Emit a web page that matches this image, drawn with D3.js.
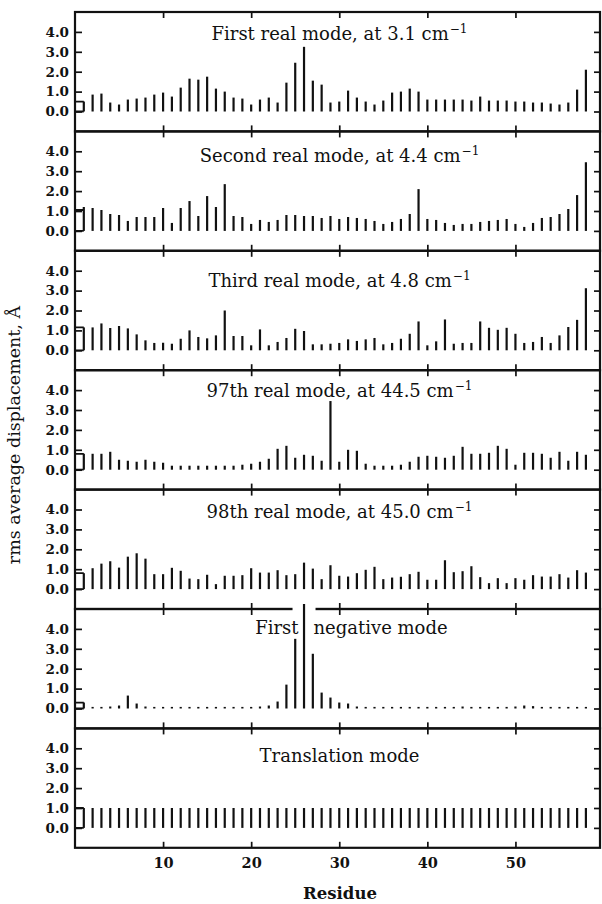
<!DOCTYPE html>
<html><head><meta charset="utf-8">
<script src="https://cdn.jsdelivr.net/npm/d3@7/dist/d3.min.js"></script>
<style>body{margin:0;background:#fff}</style>
</head><body>
<svg id="chart" width="602" height="904"></svg>
<script>
// ---------- data ----------
const residues = d3.range(1, 59);
const xTicks = [10, 20, 30, 40, 50];
const yTicks = [0, 1, 2, 3, 4];
const titles = [
  ["First real mode, at 3.1 cm", "\u22121"],
  ["Second real mode, at 4.4 cm", "\u22121"],
  ["Third real mode, at 4.8 cm", "\u22121"],
  ["97th real mode, at 44.5 cm", "\u22121"],
  ["98th real mode, at 45.0 cm", "\u22121"],
  ["First negative mode", ""],
  ["Translation mode", ""]
];
const mode1 = [0.5,0.85,0.9,0.45,0.35,0.6,0.65,0.7,0.85,0.95,0.75,1.2,1.65,1.6,1.75,1.15,1.0,0.7,0.65,0.35,0.6,0.7,0.45,1.45,2.45,3.25,1.55,1.35,0.45,0.5,1.05,0.7,0.5,0.35,0.55,0.95,1.0,1.15,1.0,0.6,0.6,0.6,0.6,0.6,0.55,0.75,0.55,0.55,0.55,0.5,0.5,0.45,0.45,0.4,0.35,0.45,1.1,2.1];
const mode2 = [1.2,1.15,1.05,0.85,0.8,0.5,0.7,0.7,0.7,1.15,0.4,1.15,1.5,0.75,1.75,1.2,2.35,0.75,0.7,0.35,0.55,0.45,0.55,0.8,0.8,0.75,0.75,0.65,0.75,0.6,0.7,0.65,0.6,0.5,0.35,0.45,0.6,0.85,2.1,0.6,0.55,0.4,0.3,0.35,0.35,0.45,0.5,0.55,0.6,0.35,0.2,0.4,0.65,0.7,0.85,1.1,1.8,3.45];
const mode3 = [1.15,1.15,1.35,1.12,1.22,1.1,0.8,0.5,0.37,0.38,0.33,0.58,1.0,0.67,0.6,0.75,2.0,0.72,0.72,0.25,1.05,0.25,0.42,0.62,1.08,0.97,0.3,0.3,0.33,0.37,0.55,0.47,0.55,0.62,0.3,0.37,0.58,0.83,1.45,0.25,0.45,1.55,0.33,0.37,0.37,1.45,1.13,1.03,1.13,0.83,0.37,0.42,0.67,0.37,0.75,1.17,1.53,3.12];
const mode97 = [0.8,0.8,0.8,0.9,0.5,0.45,0.4,0.5,0.4,0.35,0.2,0.2,0.2,0.2,0.2,0.2,0.2,0.2,0.25,0.3,0.4,0.55,1.05,1.2,0.6,0.75,0.7,0.45,3.45,0.4,1.0,0.95,0.3,0.2,0.2,0.2,0.25,0.4,0.65,0.7,0.65,0.6,0.7,1.15,0.8,0.8,0.85,1.2,1.05,0.25,0.85,0.85,0.8,0.6,0.9,0.45,0.9,0.75];
const mode98 = [0.8,1.05,1.28,1.4,1.08,1.63,1.8,1.53,0.75,0.75,1.07,0.92,0.53,0.5,0.72,0.25,0.67,0.67,0.7,1.05,0.83,0.83,0.95,0.7,0.75,1.33,1.03,0.5,1.2,0.67,0.63,0.8,0.97,1.12,0.5,0.58,0.62,0.75,0.87,0.47,0.47,1.45,0.85,0.9,1.15,0.6,0.3,0.55,0.3,0.55,0.47,0.7,0.63,0.63,0.75,0.58,0.95,0.83];
const modeNeg = [0.3,0.08,0.08,0.1,0.15,0.65,0.25,0.1,0.08,0.08,0.08,0.08,0.08,0.08,0.08,0.08,0.08,0.08,0.08,0.08,0.1,0.15,0.35,1.2,3.5,5.25,2.75,0.8,0.55,0.3,0.25,0.1,0.08,0.08,0.08,0.08,0.08,0.08,0.08,0.08,0.08,0.08,0.08,0.1,0.08,0.08,0.08,0.08,0.08,0.1,0.15,0.12,0.08,0.08,0.08,0.08,0.08,0.08];
const modeTrans = [1,1,1,1,1,1,1,1,1,1,1,1,1,1,1,1,1,1,1,1,1,1,1,1,1,1,1,1,1,1,1,1,1,1,1,1,1,1,1,1,1,1,1,1,1,1,1,1,1,1,1,1,1,1,1,1,1,1];
const leadLevels = [0.5, 1.05, 1.15, 0.8, 0.8, 0.3, 1.0];
const series = [mode1, mode2, mode3, mode97, mode98, modeNeg, modeTrans];

// ---------- layout ----------
const INK = "#111";
const top0 = 12, panelH = 119.4;
const titleDy = [8, 11, 16, 7, 8, 5, 14];
const serif = "'DejaVu Serif', serif";
const svg = d3.select("#chart");
const x = d3.scaleLinear().domain([0, 59.6]).range([75, 600]);

const panels = series.map((vals, p) => {
  const t = top0 + p * panelH;
  const y = d3.scaleLinear().domain([-1, 5]).range([t + panelH, t]);
  return {vals, p, t, y};
});

function styleAxis(g) {
  g.select(".domain").remove();
  g.selectAll(".tick line").attr("stroke", INK).attr("stroke-width", 1.7);
  g.selectAll("text").attr("fill", INK).attr("font-family", serif)
    .attr("font-weight", "bold");
}

panels.forEach(({vals, p, t, y}) => {
  const g = svg.append("g");
  const b = t + panelH;
  g.append("g").attr("transform", `translate(${x(0)},0)`)
    .call(d3.axisLeft(y).tickValues(yTicks).tickSizeInner(-7).tickSizeOuter(0)
      .tickPadding(6).tickFormat(d3.format(".1f")))
    .call(styleAxis).selectAll("text").attr("font-size", 13.5);
  g.append("g").attr("transform", `translate(${x.range()[1]},0)`)
    .call(d3.axisRight(y).tickValues(yTicks).tickSizeInner(-6).tickSizeOuter(0).tickFormat(""))
    .call(styleAxis);
  g.append("g").attr("transform", `translate(0,${t})`)
    .call(d3.axisTop(x).tickValues(xTicks).tickSizeInner(-6).tickSizeOuter(0).tickFormat(""))
    .call(styleAxis);
  const last = p === panels.length - 1;
  g.append("g").attr("transform", `translate(0,${b})`)
    .call(d3.axisBottom(x).tickValues(xTicks).tickSizeInner(-6).tickSizeOuter(0)
      .tickPadding(10).tickFormat(last ? d3.format("d") : ""))
    .call(styleAxis).selectAll("text").attr("font-size", 14.5);
  g.append("rect").attr("x", x(0)).attr("y", t)
    .attr("width", x.range()[1] - x(0)).attr("height", panelH)
    .attr("fill", "none").attr("stroke", INK).attr("stroke-width", 2.2);
});

panels.forEach(({vals, p, t, y}) => {
  const g = svg.append("g");
  g.append("path")
    .attr("d", `M${x(0)},${y(leadLevels[p])}H${x(1)}M${x(0)},${y(0)}H${x(1)}`)
    .attr("stroke", INK).attr("stroke-width", 1.8).attr("fill", "none");
  residues.forEach((r, i) => {
    if (y(vals[i]) < t) {
      g.append("line").attr("x1", x(r)).attr("x2", x(r))
        .attr("y1", y(vals[i]) - 3).attr("y2", t + 2.5)
        .attr("stroke", "#fff").attr("stroke-width", 23);
    }
  });
  g.selectAll("line.bar").data(residues).join("line").attr("class", "bar")
    .attr("x1", d => x(d)).attr("x2", d => x(d))
    .attr("y1", y(0)).attr("y2", (d, i) => y(vals[i]))
    .attr("stroke", INK).attr("stroke-width", 2.2);
  const [main, sup] = titles[p];
  const ty = y(4) + titleDy[p];
  if (p === 5) {
    const words = main.split(" ");
    g.append("text").attr("x", x(26) - 5.5).attr("y", ty).attr("text-anchor", "end")
      .attr("font-family", serif).attr("font-size", 18).attr("fill", INK).text(words[0]);
    g.append("text").attr("x", x(26) + 9.5).attr("y", ty).attr("text-anchor", "start")
      .attr("font-family", serif).attr("font-size", 18).attr("fill", INK)
      .text(words.slice(1).join(" "));
  } else {
    const tx = g.append("text").attr("x", 339.5).attr("y", ty).attr("text-anchor", "middle")
      .attr("font-family", serif).attr("font-size", 18).attr("fill", INK);
    tx.append("tspan").text(main);
    if (sup) {
      tx.append("tspan").attr("dx", 1).attr("dy", -7).attr("font-size", 12).text(sup);
    }
  }
});

svg.append("text").attr("transform", "translate(20,435) rotate(-90)")
  .attr("text-anchor", "middle").attr("font-family", serif).attr("font-size", 17.5)
  .attr("fill", INK).text("rms average displacement, \u00C5");
svg.append("text").attr("x", 340).attr("y", 899).attr("text-anchor", "middle")
  .attr("font-family", serif).attr("font-weight", "bold").attr("font-size", 16.5)
  .attr("fill", INK).text("Residue");
</script>
</body></html>
